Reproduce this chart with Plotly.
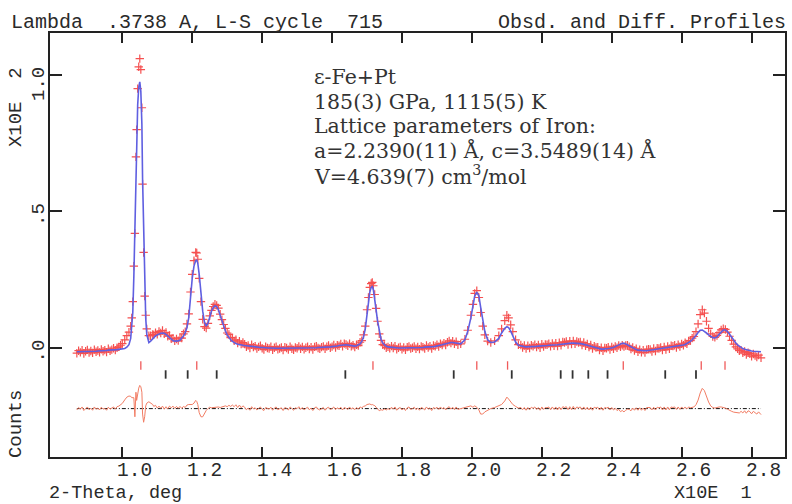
import plotly.graph_objects as go

# ---------------- data ----------------
# segment A: low-angle background
tt_a = [0.870, 0.875, 0.880, 0.885, 0.890, 0.895, 0.900, 0.905, 0.910, 0.915, 0.920, 0.925, 0.930, 0.935,
        0.940, 0.945, 0.950, 0.955, 0.960, 0.965, 0.970, 0.975, 0.980, 0.985, 0.990, 0.995, 1.000]
calc_a = [-0.014, -0.014, -0.014, -0.014, -0.013, -0.013, -0.013, -0.013, -0.012, -0.012, -0.012, -0.012, -0.011, -0.011,
          -0.010, -0.010, -0.009, -0.009, -0.008, -0.008, -0.007, -0.007, -0.006, -0.006, -0.005, -0.004, -0.003]
obs_a = [-0.019, -0.010, -0.016, -0.008, -0.020, -0.012, -0.007, -0.017, -0.011, -0.018, -0.006, -0.014, -0.009, -0.016,
         -0.005, -0.012, -0.008, -0.015, -0.003, -0.010, -0.006, -0.001, -0.008, 0.001, 0.004, 0.010, 0.016]

# segment B: strongest peak
tt_b = [1.007, 1.013, 1.019, 1.024, 1.027, 1.030, 1.033, 1.036, 1.039, 1.041, 1.044, 1.047, 1.050, 1.053, 1.056,
        1.058, 1.061, 1.064, 1.067, 1.070, 1.076, 1.081, 1.087]
calc_b = [-0.002, 0.003, 0.012, 0.035, 0.070, 0.130, 0.260, 0.450, 0.640, 0.770, 0.890, 0.955, 0.975, 0.940, 0.820,
          0.620, 0.400, 0.220, 0.110, 0.050, 0.020, 0.025, 0.035]
obs_b = [0.030, 0.045, 0.058, 0.080, 0.110, 0.170, 0.300, 0.420, 0.700, 0.800, 0.950, 1.030, 1.060, 1.020, 0.880,
         0.600, 0.350, 0.190, 0.120, 0.070, 0.045, 0.045, 0.050]

# segment C: small bump
tt_c = [1.090, 1.095, 1.100, 1.105, 1.110, 1.115, 1.120, 1.125, 1.130, 1.135, 1.140, 1.145, 1.150, 1.155,
        1.160, 1.165, 1.170, 1.175, 1.180, 1.185]
calc_c = [0.040, 0.044, 0.048, 0.052, 0.054, 0.055, 0.054, 0.050, 0.044, 0.037, 0.031, 0.027, 0.025, 0.025,
          0.026, 0.029, 0.035, 0.044, 0.056, 0.075]
obs_c = [0.048, 0.056, 0.050, 0.061, 0.055, 0.064, 0.052, 0.057, 0.043, 0.046, 0.034, 0.036, 0.026, 0.033,
         0.027, 0.037, 0.036, 0.052, 0.060, 0.088]

# segment D: doublet near 1.21 / 1.27
tt_d = [1.190, 1.195, 1.200, 1.205, 1.210, 1.213, 1.216, 1.220, 1.225, 1.230, 1.235, 1.240, 1.245, 1.250, 1.255,
        1.260, 1.265, 1.270, 1.275, 1.280, 1.285, 1.290, 1.295, 1.300, 1.305, 1.310, 1.315, 1.320, 1.325, 1.330,
        1.335, 1.340, 1.345]
calc_d = [0.110, 0.190, 0.255, 0.300, 0.320, 0.322, 0.310, 0.270, 0.200, 0.135, 0.095, 0.080, 0.090, 0.113, 0.135,
          0.148, 0.155, 0.152, 0.140, 0.120, 0.098, 0.080, 0.062, 0.048, 0.038, 0.030, 0.024, 0.019, 0.016, 0.014,
          0.012, 0.011, 0.010]
obs_d = [0.125, 0.205, 0.270, 0.320, 0.350, 0.348, 0.325, 0.255, 0.170, 0.105, 0.078, 0.073, 0.090, 0.118, 0.138,
         0.152, 0.160, 0.156, 0.146, 0.124, 0.104, 0.086, 0.072, 0.055, 0.050, 0.038, 0.037, 0.026, 0.030, 0.018,
         0.025, 0.014, 0.020]

# segment E: background 1.35 - 1.665
tt_e = [1.350, 1.355, 1.360, 1.365, 1.370, 1.375, 1.380, 1.385, 1.390, 1.395, 1.400, 1.405, 1.410, 1.415, 1.420, 1.425,
        1.430, 1.435, 1.440, 1.445, 1.450, 1.455, 1.460, 1.465, 1.470, 1.475, 1.480, 1.485, 1.490, 1.495, 1.500, 1.505,
        1.510, 1.515, 1.520, 1.525, 1.530, 1.535, 1.540, 1.545, 1.550, 1.555, 1.560, 1.565, 1.570, 1.575, 1.580, 1.585,
        1.590, 1.595, 1.600, 1.605, 1.610, 1.615, 1.620, 1.625, 1.630, 1.635, 1.640, 1.645, 1.650, 1.655, 1.660, 1.665]
calc_e = [0.009, 0.008, 0.007, 0.006, 0.005, 0.004, 0.004, 0.003, 0.003, 0.002, 0.002, 0.001, 0.001, 0.000, 0.000, 0.000,
          -0.001, -0.001, -0.001, -0.001, -0.001, -0.001, -0.001, -0.001, -0.001, -0.001, -0.001, -0.001, -0.001, -0.001, -0.001, -0.001,
          0.000, 0.000, 0.000, 0.000, 0.000, 0.000, 0.001, 0.001, 0.001, 0.001, 0.002, 0.002, 0.002, 0.002, 0.003, 0.003,
          0.004, 0.004, 0.005, 0.005, 0.006, 0.007, 0.009, 0.010, 0.011, 0.012, 0.012, 0.011, 0.010, 0.008, 0.007, 0.007]
obs_e = [0.014, 0.004, 0.009, 0.000, 0.012, 0.003, 0.007, -0.002, 0.004, 0.008, -0.001, -0.006, 0.005, 0.000, -0.002, 0.005,
         -0.007, 0.001, 0.005, -0.005, -0.002, 0.002, -0.008, 0.003, 0.000, -0.006, 0.005, -0.003, -0.007, 0.002, -0.001, 0.006,
         -0.003, 0.004, -0.005, 0.001, 0.005, -0.004, 0.003, -0.006, 0.004, 0.007, 0.000, -0.003, 0.003, 0.006, -0.003, 0.005,
         0.009, 0.001, 0.005, 0.011, 0.002, 0.010, 0.008, 0.015, 0.006, 0.016, 0.013, 0.008, 0.016, 0.006, 0.010, 0.003]

# segment F: peak near 1.71
tt_f = [1.670, 1.675, 1.680, 1.685, 1.690, 1.695, 1.700, 1.704, 1.708, 1.712, 1.715, 1.718, 1.722, 1.726, 1.730,
        1.735, 1.740, 1.745, 1.750, 1.755, 1.760]
calc_f = [0.008, 0.011, 0.015, 0.024, 0.040, 0.070, 0.125, 0.170, 0.205, 0.222, 0.225, 0.215, 0.185, 0.140, 0.100,
          0.060, 0.032, 0.018, 0.010, 0.006, 0.004]
obs_f = [0.012, 0.009, 0.021, 0.027, 0.048, 0.080, 0.140, 0.185, 0.222, 0.236, 0.240, 0.228, 0.196, 0.145, 0.098,
         0.052, 0.028, 0.012, 0.009, 0.001, 0.004]

# segment G: background 1.765 - 1.96
tt_g = [1.765, 1.770, 1.775, 1.780, 1.785, 1.790, 1.795, 1.800, 1.805, 1.810, 1.815, 1.820, 1.825, 1.830, 1.835, 1.840,
        1.845, 1.850, 1.855, 1.860, 1.865, 1.870, 1.875, 1.880, 1.885, 1.890, 1.895, 1.900, 1.905, 1.910, 1.915, 1.920,
        1.925, 1.930, 1.935, 1.940, 1.945, 1.950, 1.955, 1.960]
calc_g = [0.003, 0.002, 0.002, 0.001, 0.001, 0.000, 0.000, 0.000, 0.000, 0.000, 0.000, 0.000, 0.001, 0.001, 0.001, 0.001,
          0.002, 0.002, 0.002, 0.002, 0.003, 0.003, 0.004, 0.004, 0.005, 0.005, 0.006, 0.007, 0.008, 0.010, 0.012, 0.014,
          0.016, 0.018, 0.019, 0.020, 0.020, 0.019, 0.017, 0.015]
obs_g = [-0.001, 0.007, 0.000, 0.007, -0.005, 0.001, 0.004, -0.005, 0.002, -0.007, 0.003, 0.006, -0.002, 0.001, 0.006, -0.003,
         0.004, -0.004, 0.006, 0.003, -0.002, 0.009, 0.002, 0.007, -0.002, 0.009, 0.006, 0.012, 0.005, 0.016, 0.011, 0.018,
         0.011, 0.021, 0.026, 0.018, 0.025, 0.015, 0.023, 0.012]

# segment H: peaks near 2.01 / 2.10
tt_h = [1.968, 1.980, 1.988, 1.997, 2.003, 2.008, 2.014, 2.020, 2.025, 2.031, 2.037, 2.045, 2.054, 2.065, 2.077,
        2.085, 2.094, 2.100, 2.105, 2.111, 2.117, 2.125, 2.133]
calc_h = [0.015, 0.030, 0.060, 0.110, 0.155, 0.190, 0.205, 0.190, 0.150, 0.100, 0.060, 0.030, 0.020, 0.022, 0.035,
          0.055, 0.072, 0.078, 0.075, 0.062, 0.045, 0.022, 0.010]
obs_h = [0.015, 0.032, 0.065, 0.120, 0.160, 0.200, 0.210, 0.185, 0.130, 0.080, 0.048, 0.025, 0.020, 0.026, 0.045,
         0.070, 0.100, 0.120, 0.110, 0.085, 0.060, 0.030, 0.012]

# segment I: background 2.14 - 2.63
tt_i = [2.140, 2.145, 2.150, 2.155, 2.160, 2.165, 2.170, 2.175, 2.180, 2.185, 2.190, 2.195, 2.200, 2.205, 2.210, 2.215,
        2.220, 2.225, 2.230, 2.235, 2.240, 2.245, 2.250, 2.255, 2.260, 2.265, 2.270, 2.275, 2.280, 2.285, 2.290, 2.295,
        2.300, 2.305, 2.310, 2.315, 2.320, 2.325, 2.330, 2.335, 2.340, 2.345, 2.350, 2.355, 2.360, 2.365, 2.370, 2.375,
        2.380, 2.385, 2.390, 2.395, 2.400, 2.405, 2.410, 2.415, 2.420, 2.425, 2.430, 2.435, 2.440, 2.445, 2.450, 2.455,
        2.460, 2.465, 2.470, 2.475, 2.480, 2.485, 2.490, 2.495, 2.500, 2.505, 2.510, 2.515, 2.520, 2.525, 2.530, 2.535,
        2.540, 2.545, 2.550, 2.555, 2.560, 2.565, 2.570, 2.575, 2.580, 2.585, 2.590, 2.595, 2.600, 2.605, 2.610, 2.615,
        2.620, 2.625, 2.630]
calc_i = [0.007, 0.006, 0.005, 0.004, 0.004, 0.004, 0.005, 0.005, 0.006, 0.006, 0.007, 0.007, 0.008, 0.008, 0.009, 0.009,
          0.010, 0.010, 0.011, 0.011, 0.012, 0.012, 0.013, 0.014, 0.015, 0.016, 0.017, 0.017, 0.018, 0.018, 0.018, 0.018,
          0.018, 0.017, 0.016, 0.015, 0.014, 0.012, 0.010, 0.008, 0.006, 0.004, 0.002, 0.000, -0.002, -0.003, -0.004, -0.004,
          -0.004, -0.003, -0.002, -0.001, 0.000, 0.002, 0.005, 0.008, 0.012, 0.015, 0.017, 0.017, 0.015, 0.012, 0.008, 0.004,
          0.000, -0.003, -0.006, -0.008, -0.009, -0.010, -0.010, -0.010, -0.010, -0.009, -0.009, -0.008, -0.007, -0.006, -0.006, -0.005,
          -0.004, -0.003, -0.002, -0.001, 0.000, 0.001, 0.002, 0.003, 0.004, 0.005, 0.006, 0.008, 0.009, 0.011, 0.013, 0.016,
          0.020, 0.024, 0.030]
obs_i = [0.011, 0.002, 0.009, -0.002, 0.008, 0.000, 0.010, 0.006, 0.012, 0.003, 0.011, 0.001, 0.014, 0.005, 0.013, 0.012,
         0.016, 0.006, 0.017, 0.008, 0.018, 0.007, 0.019, 0.010, 0.022, 0.020, 0.024, 0.013, 0.025, 0.014, 0.026, 0.015,
         0.024, 0.020, 0.022, 0.011, 0.020, 0.008, 0.015, 0.003, 0.011, -0.002, 0.007, 0.002, 0.003, -0.008, 0.001, -0.010,
         0.000, -0.001, 0.003, -0.006, 0.004, -0.003, 0.006, 0.001, 0.009, 0.004, 0.010, 0.005, 0.009, 0.010, 0.005, -0.004,
         0.002, -0.009, -0.003, -0.014, -0.006, -0.016, -0.008, -0.017, -0.006, -0.004, -0.005, -0.013, -0.002, -0.011, -0.001, -0.002,
         0.002, -0.008, 0.004, -0.006, 0.006, -0.003, 0.008, 0.007, 0.010, 0.002, 0.012, 0.005, 0.015, 0.010, 0.019, 0.015,
         0.026, 0.027, 0.036]

# segment J: doublet near 2.65 / 2.72
tt_j = [2.635, 2.641, 2.647, 2.653, 2.659, 2.665, 2.671, 2.677, 2.683, 2.689, 2.695, 2.701, 2.707, 2.713, 2.719,
        2.725, 2.731, 2.737, 2.743, 2.749, 2.755]
calc_j = [0.036, 0.046, 0.057, 0.065, 0.066, 0.062, 0.055, 0.048, 0.042, 0.038, 0.037, 0.041, 0.050, 0.060, 0.066,
          0.066, 0.060, 0.050, 0.038, 0.027, 0.018]
obs_j = [0.042, 0.060, 0.088, 0.122, 0.140, 0.128, 0.098, 0.072, 0.052, 0.042, 0.039, 0.046, 0.056, 0.066, 0.071,
         0.068, 0.058, 0.043, 0.028, 0.014, 0.004]

# segment K: high-angle end
tt_k = [2.760, 2.765, 2.770, 2.775, 2.780, 2.785, 2.790, 2.795, 2.800, 2.805, 2.810, 2.815, 2.820, 2.827]
calc_k = [0.011, 0.006, 0.002, -0.002, -0.005, -0.007, -0.009, -0.010, -0.011, -0.012, -0.013, -0.013, -0.014, -0.014]
obs_k = [-0.003, -0.010, -0.008, -0.018, -0.013, -0.024, -0.017, -0.021, -0.030, -0.022, -0.028, -0.033, -0.026, -0.036]

two_theta = tt_a + tt_b + tt_c + tt_d + tt_e + tt_f + tt_g + tt_h + tt_i + tt_j + tt_k
y_calc = calc_a + calc_b + calc_c + calc_d + calc_e + calc_f + calc_g + calc_h + calc_i + calc_j + calc_k
y_obs = obs_a + obs_b + obs_c + obs_d + obs_e + obs_f + obs_g + obs_h + obs_i + obs_j + obs_k
if not (len(two_theta) == len(y_calc) == len(y_obs)):
    raise ValueError("length mismatch %d %d %d" % (len(two_theta), len(y_calc), len(y_obs)))

# reflection positions (phase 1: red, phase 2: black)
refl_phase1 = [1.053, 1.213, 1.717, 2.014, 2.102, 2.433, 2.656, 2.724]
refl_phase2 = [1.124, 1.187, 1.270, 1.638, 1.948, 2.114, 2.254, 2.288, 2.333, 2.388, 2.553, 2.641]

x_tick_vals = [1.0, 1.2, 1.4, 1.6, 1.8, 2.0, 2.2, 2.4, 2.6, 2.8]
x_tick_text = ["1.0", "1.2", "1.4", "1.6", "1.8", "2.0", "2.2", "2.4", "2.6", "2.8"]
y_tick_vals = [0.0, 0.5, 1.0]
y_tick_text = [".0", ".5", "1.0"]

# ---------------- styling constants ----------------
DIFF_OFFSET = -0.222
TICK1_Y = -0.064
TICK2_Y = -0.097
MONO = "Liberation Mono"
SERIF = "DejaVu Serif"
FRAME = "#222222"
TXT = "#2a2a2a"

diff = [o - c + DIFF_OFFSET for o, c in zip(y_obs, y_calc)]

fig = go.Figure()

fig.add_trace(go.Scatter(
    x=two_theta, y=y_obs, mode="markers",
    marker=dict(symbol="cross-thin", size=6, line=dict(color="rgb(245,80,80)", width=1.2)),
    showlegend=False, hoverinfo="skip"))

fig.add_trace(go.Scatter(
    x=two_theta, y=y_calc, mode="lines",
    line=dict(color="rgb(95,95,225)", width=1.6),
    showlegend=False, hoverinfo="skip"))

fig.add_trace(go.Scatter(
    x=refl_phase1, y=[TICK1_Y] * len(refl_phase1), mode="markers",
    marker=dict(symbol="line-ns", size=6, line=dict(color="rgb(240,90,90)", width=1.3)),
    showlegend=False, hoverinfo="skip"))
fig.add_trace(go.Scatter(
    x=refl_phase2, y=[TICK2_Y] * len(refl_phase2), mode="markers",
    marker=dict(symbol="line-ns", size=6, line=dict(color="#333333", width=1.8)),
    showlegend=False, hoverinfo="skip"))

fig.add_trace(go.Scatter(
    x=[two_theta[0], two_theta[-1]], y=[DIFF_OFFSET, DIFF_OFFSET], mode="lines",
    line=dict(color="#111111", width=1, dash="4px,2px,1px,2px"),
    showlegend=False, hoverinfo="skip"))

fig.add_trace(go.Scatter(
    x=two_theta, y=diff, mode="lines",
    line=dict(color="rgb(242,125,100)", width=1),
    showlegend=False, hoverinfo="skip"))

fig.update_layout(
    width=792, height=504,
    margin=dict(l=50, r=5, t=33, b=47),
    paper_bgcolor="white", plot_bgcolor="white",
    font=dict(family=MONO, size=19, color=TXT),
    xaxis=dict(
        range=[0.7932, 2.8956], tickmode="array", tickvals=x_tick_vals,
        ticks="inside", ticklen=10, tickwidth=2, tickcolor=FRAME, showticklabels=False,
        showline=True, linewidth=2, linecolor=FRAME, mirror="ticks",
        showgrid=False, zeroline=False,
    ),
    yaxis=dict(
        range=[-0.3993, 1.1538], tickmode="array", tickvals=y_tick_vals,
        ticks="inside", ticklen=12, tickwidth=2, tickcolor=FRAME, showticklabels=False,
        showline=True, linewidth=2, linecolor=FRAME, mirror="ticks",
        showgrid=False, zeroline=False,
    ),
)

def px_x(p):
    return (p - 50) / 737.0

def px_y(p):
    return (457 - p) / 424.0

anns = [
    dict(text="Lambda\u00a0\u00a0.3738\u00a0A,\u00a0L-S\u00a0cycle\u00a0\u00a0715", x=px_x(9), y=px_y(22),
         xanchor="left", yanchor="middle", font=dict(family=MONO, size=20, color=TXT)),
    dict(text="Obsd.\u00a0and\u00a0Diff.\u00a0Profiles", x=px_x(790), y=px_y(22),
         xanchor="right", yanchor="middle", font=dict(family=MONO, size=20, color=TXT)),
    dict(text="2-Theta,\u00a0deg", x=px_x(49), y=px_y(504), borderpad=0, borderwidth=0,
         xanchor="left", yanchor="bottom", font=dict(family=MONO, size=18.5, color=TXT)),
    dict(text="X10E\u00a0\u00a01", x=px_x(676), y=px_y(504), borderpad=0, borderwidth=0,
         xanchor="left", yanchor="bottom", font=dict(family=MONO, size=18.5, color=TXT)),
    dict(text="X10E\u00a0\u00a02", x=px_x(16), y=px_y(107), textangle=-90,
         xanchor="center", yanchor="middle", font=dict(family=MONO, size=19, color=TXT)),
    dict(text="Counts", x=px_x(16), y=px_y(424), textangle=-90,
         xanchor="center", yanchor="middle", font=dict(family=MONO, size=19, color=TXT)),
]
for a in anns:
    a.update(xref="paper", yref="paper")

# x tick labels (placed just right of each tick, as in the reference)
for val, lab in zip(x_tick_vals, x_tick_text):
    anns.append(dict(text=lab, xref="x", yref="paper", x=val, y=px_y(460), xshift=12,
                     xanchor="center", yanchor="top", borderpad=0, borderwidth=0,
                     font=dict(family=MONO, size=19.5, color=TXT)))

# y tick labels (rotated, top-aligned just above each tick, as in the reference)
for val, lab in zip(y_tick_vals, y_tick_text):
    anns.append(dict(text=lab, xref="paper", yref="y", x=px_x(39), y=val, yshift=10,
                     textangle=-90, xanchor="center", yanchor="top",
                     font=dict(family=MONO, size=19, color=TXT)))

info_lines = [
    "\u03b5-Fe+Pt",
    "185(3) GPa, 1115(5) K",
    "Lattice parameters of Iron:",
    "a=2.2390(11) \u00c5, c=3.5489(14) \u00c5",
    "V=4.639(7) cm<sup>3</sup>/mol",
]
info_y = [77, 101.5, 126, 150.5, 175]
for line, yy in zip(info_lines, info_y):
    anns.append(dict(text=line, xref="paper", yref="paper", x=px_x(314), y=px_y(yy),
                     xanchor="left", yanchor="middle", borderpad=0,
                     font=dict(family=SERIF, size=20.5, color="#333333")))

for a in anns:
    a["showarrow"] = False
fig.update_layout(annotations=anns)

fig.write_html("out.html", config={"displayModeBar": False},
               post_script="document.body.style.margin='0px';")
